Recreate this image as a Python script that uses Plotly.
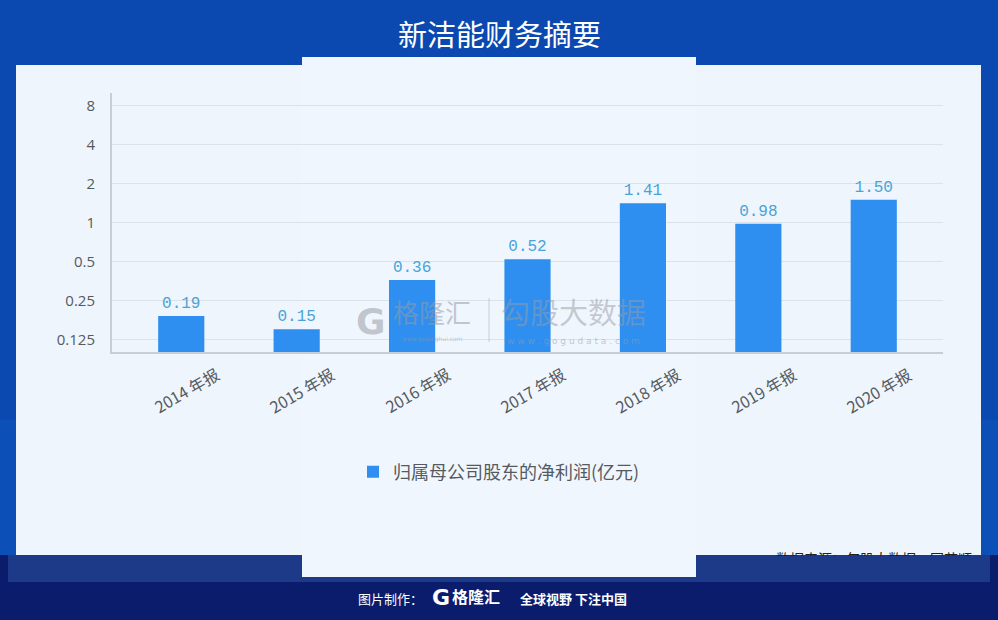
import plotly.graph_objects as go

categories = ["2014 年报", "2015 年报", "2016 年报", "2017 年报", "2018 年报", "2019 年报", "2020 年报"]
net_profit = [0.19, 0.15, 0.36, 0.52, 1.41, 0.98, 1.50]
y_tickvals = [0.125, 0.25, 0.5, 1, 2, 4, 8]
y_ticktext = ["0.125", "0.25", "0.5", "1", "2", "4", "8"]
series_name = "归属母公司股东的净利润(亿元)"
title_text = "新洁能财务摘要"
source_text = "数据来源：勾股大数据，同花顺"

W, H = 998, 620
CJK = "Noto Sans CJK SC, Noto Sans, sans-serif"


def px(x):
    return x / W


def py(y):
    return 1 - y / H


fig = go.Figure()
fig.add_trace(go.Bar(
    x=categories, y=net_profit, name=series_name,
    marker=dict(color="#2e8ff0", line=dict(width=0)),
    width=0.4,
    texttemplate="%{y:.2f}", textposition="outside",
    textfont=dict(family="Liberation Mono, DejaVu Sans Mono, monospace", size=16, color="#4aa3d6"),
    cliponaxis=False, hoverinfo="skip",
))

# full-figure helper subplot for the partially hidden source note
fig.add_trace(go.Scatter(
    x=[874], y=[560], mode="text", text=[source_text],
    textfont=dict(family=CJK, size=14, color="#222222"),
    xaxis="x2", yaxis="y2", showlegend=False, hoverinfo="skip", cliponaxis=False,
))

shapes = []
# background bands
shapes.append(dict(type="rect", xref="paper", yref="paper", x0=0, x1=1, y0=py(620), y1=py(0),
                   fillcolor="#0c4fb6", line_width=0, layer="below"))
shapes.append(dict(type="rect", xref="paper", yref="paper", x0=0, x1=1, y0=py(420), y1=py(0),
                   fillcolor="#0b49b0", line_width=0, layer="below"))
shapes.append(dict(type="rect", xref="paper", yref="paper", x0=0, x1=1, y0=py(620), y1=py(555),
                   fillcolor="#0b1c6c", line_width=0, layer="below"))
shapes.append(dict(type="rect", xref="paper", yref="paper", x0=px(8), x1=px(990), y0=py(582), y1=py(555),
                   fillcolor="#1c3a88", line_width=0, layer="below"))
# light panel
shapes.append(dict(type="rect", xref="paper", yref="paper", x0=px(16), x1=px(981), y0=py(555), y1=py(65),
                   fillcolor="#eef5fc", line_width=0, layer="below"))
shapes.append(dict(type="rect", xref="paper", yref="paper", x0=px(302), x1=px(696), y0=py(577), y1=py(57),
                   fillcolor="#f0f6fd", line_width=0, layer="below"))
# watermark divider
shapes.append(dict(type="line", xref="paper", yref="paper", x0=px(489), x1=px(489), y0=py(342), y1=py(298),
                   line=dict(color="rgba(150,155,165,0.45)", width=1), layer="above"))
# cover to cut the source note
shapes.append(dict(type="rect", xref="paper", yref="paper", x0=px(720), x1=px(981), y0=py(582), y1=py(556),
                   fillcolor="#1c3a88", line_width=0, layer="above"))

annotations = []


def ann(text, x, y, size, color, family=CJK, xref="paper", **kw):
    d = dict(text=text, xref=xref, yref="paper", x=x, y=y, xanchor="center", yanchor="middle",
             showarrow=False, font=dict(family=family, size=size, color=color))
    d.update(kw)
    annotations.append(d)


ann(title_text, 0.5, py(33), 29, "white")
for c in categories:
    ann(c, c, py(390), 16, "#555a60", xref="x", xshift=5, textangle=-30)
# watermark
wm = "rgba(150,155,165,0.55)"
ann("<b>G</b>", px(371), py(321), 36, wm, family="DejaVu Sans")
ann("格隆汇", px(432), py(312), 26, wm)
ann("www.gelonghui.com", px(432), py(339), 6, wm, family="DejaVu Sans")
ann("勾股大数据", px(573), py(311), 29, "rgba(150,155,165,0.5)")
ann("w w w . g o g u d a t a . c o m", px(573), py(341), 9, wm, family="DejaVu Sans")
# footer
ann("图片制作：", px(390), py(598), 13, "white")
ann("<b>G</b>", px(441), py(597), 22, "white", family="DejaVu Sans")
ann("<b>格隆汇</b>", px(476), py(596), 16, "white")
ann("<b>全球视野 下注中国</b>", px(573), py(598), 13, "white")

fig.update_layout(
    width=W, height=H,
    margin=dict(l=0, r=0, t=0, b=0),
    paper_bgcolor="#0c4fb6",
    plot_bgcolor="rgba(0,0,0,0)",
    shapes=shapes,
    annotations=annotations,
    showlegend=True,
    legend=dict(orientation="h", x=0.5, xanchor="center", y=py(472), yanchor="middle",
                font=dict(family=CJK, size=18, color="#555a60"), bgcolor="rgba(0,0,0,0)"),
    xaxis=dict(domain=[px(112), px(943)], type="category", range=[-0.6, 6.6],
               showticklabels=False, showgrid=False, showline=True, linecolor="#c9ced6",
               linewidth=2, ticks="", zeroline=False, fixedrange=True),
    yaxis=dict(domain=[py(352), py(93)], type="log", range=[-1, 1],
               tickvals=y_tickvals, ticktext=y_ticktext, showgrid=True, gridcolor="#dce2ea",
               gridwidth=1, showline=True, linecolor="#c9ced6", linewidth=2,
               tickfont=dict(family="Open Sans, Noto Sans, sans-serif", size=15, color="#555a60"),
               ticks="", ticklabelstandoff=12, zeroline=False, fixedrange=True),
    xaxis2=dict(domain=[0, 1], range=[0, W], visible=False, anchor="y2", fixedrange=True),
    yaxis2=dict(domain=[0, 1], range=[H, 0], visible=False, anchor="x2", fixedrange=True),
)

fig.write_html("out.html", config={"displayModeBar": False},
               post_script="document.body.style.margin='0';document.body.style.overflow='hidden';")
